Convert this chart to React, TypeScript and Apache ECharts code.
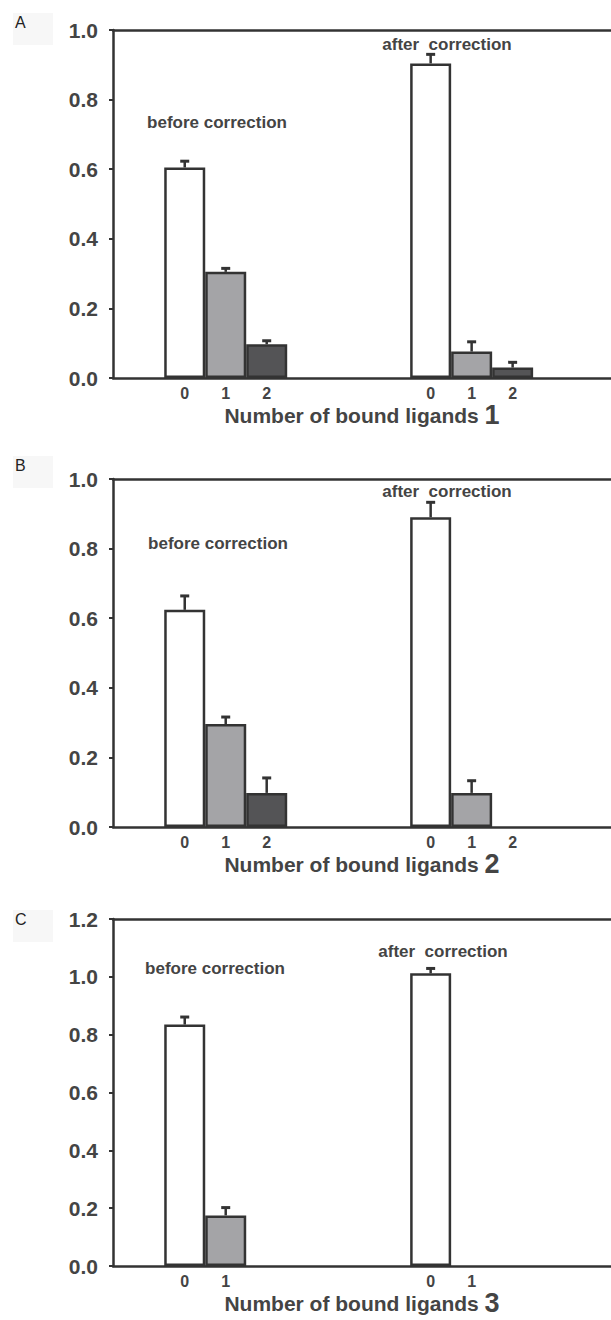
import React, { useEffect, useRef } from "react";
import * as echarts from "echarts";

// ---- data ----
const ligands12 = ["0", "1", "2"];
const ligands3 = ["0", "1"];

const beforeA = [0.605, 0.305, 0.097];
const beforeErrA = [0.018, 0.01, 0.01];
const afterA = [0.904, 0.076, 0.03];
const afterErrA = [0.026, 0.028, 0.015];

const beforeB = [0.624, 0.296, 0.098];
const beforeErrB = [0.04, 0.02, 0.043];
const afterB = [0.89, 0.098, 0];
const afterErrB = [0.043, 0.035, 0];

const beforeC = [0.835, 0.175];
const beforeErrC = [0.026, 0.027];
const afterC = [1.012, 0];
const afterErrC = [0.017, 0];

const yMaxA = 1.0;
const yMaxB = 1.0;
const yMaxC = 1.2;

// ---- styles / layout ----
const FONT = "'Liberation Sans', Arial, sans-serif";
const INK = "#333333";
const TXT = "#444444";
const fills = ["#ffffff", "#a4a4a7", "#545456"];
const AFTER_OFFSET = 6;
const X_MIN = -1.75;
const X_MAX = 10.4;

const panels = [
  { letter: "A", cats: ligands12, before: beforeA, beforeErr: beforeErrA, after: afterA, afterErr: afterErrA, yMax: yMaxA, top: 30, height: 348, titleNum: "1", beforeLbl: [217, 122], afterLbl: [447, 44], letterY: 14 },
  { letter: "B", cats: ligands12, before: beforeB, beforeErr: beforeErrB, after: afterB, afterErr: afterErrB, yMax: yMaxB, top: 479, height: 348, titleNum: "2", beforeLbl: [218, 543], afterLbl: [447, 491], letterY: 457 },
  { letter: "C", cats: ligands3, before: beforeC, beforeErr: beforeErrC, after: afterC, afterErr: afterErrC, yMax: yMaxC, top: 919, height: 347, titleNum: "3", beforeLbl: [215, 968], afterLbl: [443, 951], letterY: 911 },
];

function buildOption() {
  const grid: any[] = [];
  const xAxis: any[] = [];
  const yAxis: any[] = [];
  const series: any[] = [];
  const graphic: any[] = [];

  panels.forEach((p, gi) => {
    grid.push({ left: 113, right: 0, top: p.top, height: p.height, containLabel: false });
    const cats = p.cats;
    const labelValues: number[] = [];
    cats.forEach((_, i) => labelValues.push(i));
    cats.forEach((_, i) => labelValues.push(AFTER_OFFSET + i));

    xAxis.push({
      type: "value",
      gridIndex: gi,
      min: X_MIN,
      max: X_MAX,
      splitLine: { show: false },
      axisTick: { show: false },
      axisLine: { show: true, onZero: false, lineStyle: { color: INK, width: 2.5 } },
      axisLabel: {
        customValues: labelValues,
        formatter: (v: number) => {
          const i = v >= AFTER_OFFSET ? v - AFTER_OFFSET : v;
          return cats[Math.round(i)] ?? "";
        },
        color: TXT,
        fontFamily: FONT,
        fontWeight: "bold",
        fontSize: 16,
        margin: 7,
      },
      name: `{t|Number of bound ligands }{n|${p.titleNum}}`,
      nameLocation: "middle",
      nameGap: 22,
      nameTextStyle: {
        rich: {
          t: { fontFamily: FONT, fontWeight: "bold", fontSize: 21, color: TXT },
          n: { fontFamily: FONT, fontWeight: "bold", fontSize: 27, color: TXT },
        },
      },
    });
    xAxis.push({
      type: "value",
      gridIndex: gi,
      position: "top",
      min: X_MIN,
      max: X_MAX,
      splitLine: { show: false },
      axisTick: { show: false },
      axisLabel: { show: false },
      axisLine: { show: true, onZero: false, lineStyle: { color: INK, width: 2.5 } },
    });
    yAxis.push({
      type: "value",
      gridIndex: gi,
      min: 0,
      max: p.yMax,
      interval: 0.2,
      splitLine: { show: false },
      axisLine: { show: true, onZero: false, lineStyle: { color: INK, width: 2.5 } },
      axisTick: { show: true, inside: false, length: 4, lineStyle: { color: INK, width: 2 } },
      axisLabel: {
        formatter: (v: number) => v.toFixed(1),
        color: TXT,
        fontFamily: FONT,
        fontWeight: "bold",
        fontSize: 21,
        margin: 15,
      },
    });

    const barData: any[] = [];
    const errData: any[] = [];
    cats.forEach((_, i) => {
      barData.push({ value: [i, p.before[i]], itemStyle: { color: fills[i] } });
      errData.push([i, p.before[i], p.beforeErr[i]]);
    });
    cats.forEach((_, i) => {
      if (p.after[i] > 0) {
        barData.push({ value: [AFTER_OFFSET + i, p.after[i]], itemStyle: { color: fills[i] } });
        errData.push([AFTER_OFFSET + i, p.after[i], p.afterErr[i]]);
      }
    });

    series.push({
      type: "bar",
      xAxisIndex: gi * 2,
      yAxisIndex: gi,
      barWidth: 41,
      data: barData,
      itemStyle: { borderColor: INK, borderWidth: 2.5 },
      silent: true,
      z: 2,
    });
    series.push({
      type: "custom",
      xAxisIndex: gi * 2,
      yAxisIndex: gi,
      data: errData,
      encode: { x: 0, y: 1 },
      z: 3,
      silent: true,
      renderItem: (params: any, api: any) => {
        const x = api.value(0);
        const y = api.value(1);
        const e = api.value(2);
        if (!e) return null;
        const p0 = api.coord([x, y]);
        const p1 = api.coord([x, y + e]);
        return {
          type: "group",
          children: [
            { type: "line", shape: { x1: p0[0], y1: p0[1], x2: p1[0], y2: p1[1] }, style: { stroke: INK, lineWidth: 2.5 } },
            { type: "line", shape: { x1: p1[0] - 4.5, y1: p1[1], x2: p1[0] + 4.5, y2: p1[1] }, style: { stroke: INK, lineWidth: 3 } },
          ],
        };
      },
    });

    graphic.push({ type: "rect", left: 13, top: p.letterY - 1, shape: { width: 40, height: 32 }, style: { fill: "#f7f7f7" }, silent: true, z: -1 });
    graphic.push({
      type: "text",
      left: 15,
      top: p.letterY,
      style: { text: p.letter, font: `16px ${FONT}`, fill: "#222" },
    });
    graphic.push({
      type: "text",
      x: p.beforeLbl[0],
      y: p.beforeLbl[1],
      style: { text: "before correction", font: `bold 17px ${FONT}`, fill: TXT, align: "center", verticalAlign: "middle" },
    });
    graphic.push({
      type: "text",
      x: p.afterLbl[0],
      y: p.afterLbl[1],
      style: { text: "after  correction", font: `bold 17px ${FONT}`, fill: TXT, align: "center", verticalAlign: "middle" },
    });
  });

  return {
    animation: false,
    backgroundColor: "#ffffff",
    grid,
    xAxis,
    yAxis,
    series,
    graphic,
  };
}

export default function App() {
  const ref = useRef<HTMLDivElement>(null);
  useEffect(() => {
    document.body.style.margin = "0";
    if (!ref.current) return;
    const chart = echarts.init(ref.current, undefined, { renderer: "svg" });
    chart.setOption(buildOption() as any);
    return () => chart.dispose();
  }, []);
  return <div ref={ref} style={{ width: 611, height: 1320 }} />;
}
